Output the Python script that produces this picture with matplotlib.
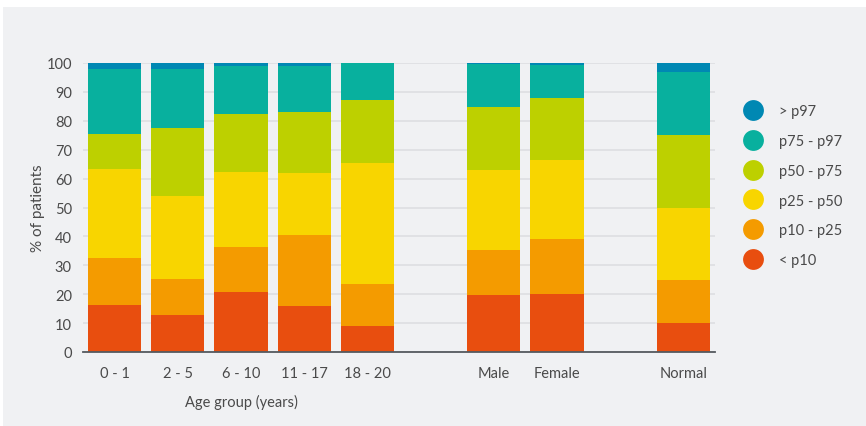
import matplotlib
matplotlib.use("Agg")
import matplotlib.pyplot as plt
from matplotlib.lines import Line2D
from matplotlib.patches import Rectangle
import numpy as np

# Groups and their slot positions (gaps separate age, sex and reference blocks)
categories = ["0 - 1", "2 - 5", "6 - 10", "11 - 17", "18 - 20", "Male", "Female", "Normal"]
positions = [0, 1, 2, 3, 4, 6, 7, 9]

# Percentage of patients in each percentile band (stacked bottom to top)
lt_p10 = [16.4, 12.7, 20.9, 16.0, 9.1, 19.8, 20.2, 10.0]
p10_p25 = [16.2, 12.4, 15.5, 24.6, 14.5, 15.6, 19.0, 15.0]
p25_p50 = [30.8, 29.0, 26.0, 21.4, 41.9, 27.7, 27.3, 25.0]
p50_p75 = [12.1, 23.5, 20.1, 21.2, 21.8, 21.8, 21.5, 25.0]
p75_p97 = [22.5, 20.4, 16.3, 15.6, 12.7, 14.8, 11.4, 22.0]
gt_p97 = [2.0, 2.0, 1.2, 1.2, 0.0, 0.3, 0.6, 3.0]

series = [
    ("< p10", lt_p10, "#e84e0f"),
    ("p10 - p25", p10_p25, "#f49b00"),
    ("p25 - p50", p25_p50, "#f8d500"),
    ("p50 - p75", p50_p75, "#bdd000"),
    ("p75 - p97", p75_p97, "#08b09e"),
    ("> p97", gt_p97, "#0088b3"),
]

text_color = "#4a4a4a"
plt.rcParams["font.family"] = ["Lato", "DejaVu Sans"]

fig = plt.figure(figsize=(8.66, 4.27), dpi=100)
fig.patch.set_facecolor("white")
fig.add_artist(Rectangle((3 / 866, 0), 1, 1 - 8 / 427, transform=fig.transFigure,
                         facecolor="#f0f1f3", edgecolor="none", zorder=-10))

ax = fig.add_axes([83 / 866, 1 - 353 / 427, 632 / 866, 289 / 427])
ax.set_facecolor("none")

bottom = np.zeros(len(categories))
for label, values, color in series:
    vals = np.array(values)
    ax.bar(positions, vals, bottom=bottom, width=0.84, color=color,
           edgecolor="none", label=label, zorder=3, clip_on=False)
    bottom += vals

ax.set_xlim(-0.5, 9.5)
ax.set_ylim(0, 100)
ax.set_yticks(np.arange(0, 101, 10))
ax.yaxis.grid(True, color="#dcdde0", linewidth=1.1, zorder=0)
ax.set_axisbelow(True)

for side in ["top", "right", "left"]:
    ax.spines[side].set_visible(False)
ax.spines["bottom"].set_color("#555a5f")
ax.spines["bottom"].set_linewidth(1.3)
ax.spines["bottom"].set_zorder(4)

ax.set_xticks(positions)
ax.set_xticklabels(categories)
ax.tick_params(axis="x", length=0, pad=10, labelsize=10.5, labelcolor=text_color)
ax.tick_params(axis="y", length=0, pad=8, labelsize=10.5, labelcolor=text_color)

ax.set_ylabel("% of patients", fontsize=11, color=text_color, labelpad=1)
ax.text(2, -0.17, "Age group (years)", transform=ax.get_xaxis_transform(),
        ha="center", va="center", fontsize=10.5, color=text_color)

handles = [Line2D([], [], linestyle="none", marker="o", markersize=15,
                  markerfacecolor=c, markeredgecolor="none", label=l)
           for l, _, c in reversed(series)]
fig.legend(handles=handles, loc="upper left", bbox_to_anchor=(737 / 866, 1 - 98 / 427),
           frameon=False, fontsize=10.5, labelcolor=text_color,
           handletextpad=1.2, labelspacing=1.08, handlelength=1.2, borderpad=0)

fig.savefig("out.png", dpi=100, facecolor=fig.get_facecolor())
